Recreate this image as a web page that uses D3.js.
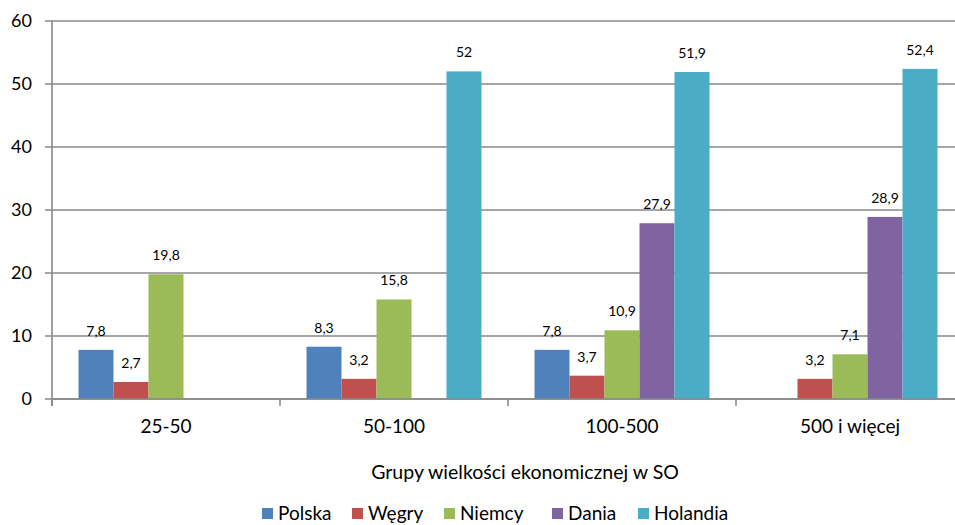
<!DOCTYPE html>
<html><head><meta charset="utf-8">
<script src="https://cdn.jsdelivr.net/npm/d3@7"></script>
<style>html,body{margin:0;padding:0;background:#fff;overflow:hidden}</style>
</head><body>
<svg id="chart" width="955" height="525"></svg>
<script>
const categories = ["25-50", "50-100", "100-500", "500 i więcej"];
const seriesNames = ["Polska", "Węgry", "Niemcy", "Dania", "Holandia"];
const polska   = [7.8, 8.3, 7.8, null];
const wegry    = [2.7, 3.2, 3.7, 3.2];
const niemcy   = [19.8, 15.8, 10.9, 7.1];
const dania    = [null, null, 27.9, 28.9];
const holandia = [null, 52, 51.9, 52.4];
const yTicks = [0, 10, 20, 30, 40, 50, 60];
const colors = ["#4F81BD", "#C0504D", "#9BBB59", "#8064A2", "#4BACC6"];
const seriesValues = [polska, wegry, niemcy, dania, holandia];
const axisTitle = "Grupy wielkości ekonomicznej w SO";

const svg = d3.select("#chart");
const font = "Lato, 'Open Sans', sans-serif";
const plotLeft = 52, plotRight = 964, plotTop = 21, plotBottom = 399;
const gridColor = "#898989";

const x = d3.scaleBand().domain(categories).range([plotLeft, plotRight]).padding(0);
const barW = 35;
const offset = (x.bandwidth() - barW * 5) / 2;
const xs = d3.scaleBand().domain(seriesNames).range([offset, offset + barW * 5]).padding(0);
const y = d3.scaleLinear().domain([0, 60]).range([plotBottom, plotTop]);

// gridlines
svg.append("g").selectAll("line").data(yTicks).join("line")
  .attr("x1", plotLeft - 7).attr("x2", plotRight)
  .attr("y1", d => y(d)).attr("y2", d => y(d))
  .attr("stroke", gridColor).attr("stroke-width", 1.6);

// y axis line
svg.append("line").attr("x1", plotLeft).attr("x2", plotLeft).attr("y1", plotTop).attr("y2", plotBottom + 7)
  .attr("stroke", gridColor).attr("stroke-width", 1.6);

// y labels
svg.append("g").selectAll("text").data(yTicks).join("text")
  .attr("x", 32).attr("y", d => y(d)).attr("dy", "0.36em")
  .attr("text-anchor", "end").attr("font-family", font).attr("font-size", 18).attr("fill", "#000")
  .text(d => d);

// x tick marks
svg.append("g").selectAll("line").data(categories).join("line")
  .attr("x1", d => x(d)).attr("x2", d => x(d))
  .attr("y1", plotBottom).attr("y2", plotBottom + 7)
  .attr("stroke", gridColor).attr("stroke-width", 1.6);

// bars
const data = [];
seriesValues.forEach((vals, si) => vals.forEach((v, ci) => {
  if (v !== null) data.push({s: seriesNames[si], si, c: categories[ci], v});
}));
svg.append("g").selectAll("rect").data(data).join("rect")
  .attr("x", d => x(d.c) + xs(d.s))
  .attr("width", xs.bandwidth())
  .attr("y", d => y(d.v))
  .attr("height", d => y(0) - y(d.v))
  .attr("fill", d => colors[d.si]);

// value labels
svg.append("g").selectAll("text").data(data).join("text")
  .attr("x", d => x(d.c) + xs(d.s) + xs.bandwidth() / 2)
  .attr("y", d => y(d.v) - 14)
  .attr("text-anchor", "middle").attr("font-family", font).attr("font-size", 14).attr("fill", "#000")
  .text(d => String(d.v).replace(".", ","));

// x axis line on top
svg.append("line").attr("x1", plotLeft).attr("x2", plotRight).attr("y1", plotBottom).attr("y2", plotBottom)
  .attr("stroke", gridColor).attr("stroke-width", 1.6);

// category labels
svg.append("g").selectAll("text").data(categories).join("text")
  .attr("x", d => x(d) + x.bandwidth() / 2).attr("y", 433)
  .attr("text-anchor", "middle").attr("font-family", font).attr("font-size", 19).attr("fill", "#000")
  .text(d => d);

// axis title
svg.append("text").attr("x", 525).attr("y", 479)
  .attr("text-anchor", "middle").attr("font-family", font).attr("font-size", 19.5).attr("fill", "#000")
  .text(axisTitle);

// legend
const legendX = [262, 352, 444, 552, 638];
const lg = svg.append("g").selectAll("g").data(seriesNames).join("g")
  .attr("transform", (d, i) => `translate(${legendX[i]},508)`);
lg.append("rect").attr("width", 11).attr("height", 11).attr("fill", (d, i) => colors[i]);
lg.append("text").attr("x", 16).attr("y", 12)
  .attr("font-family", font).attr("font-size", 19).attr("fill", "#000").text(d => d);
</script>
</body></html>
